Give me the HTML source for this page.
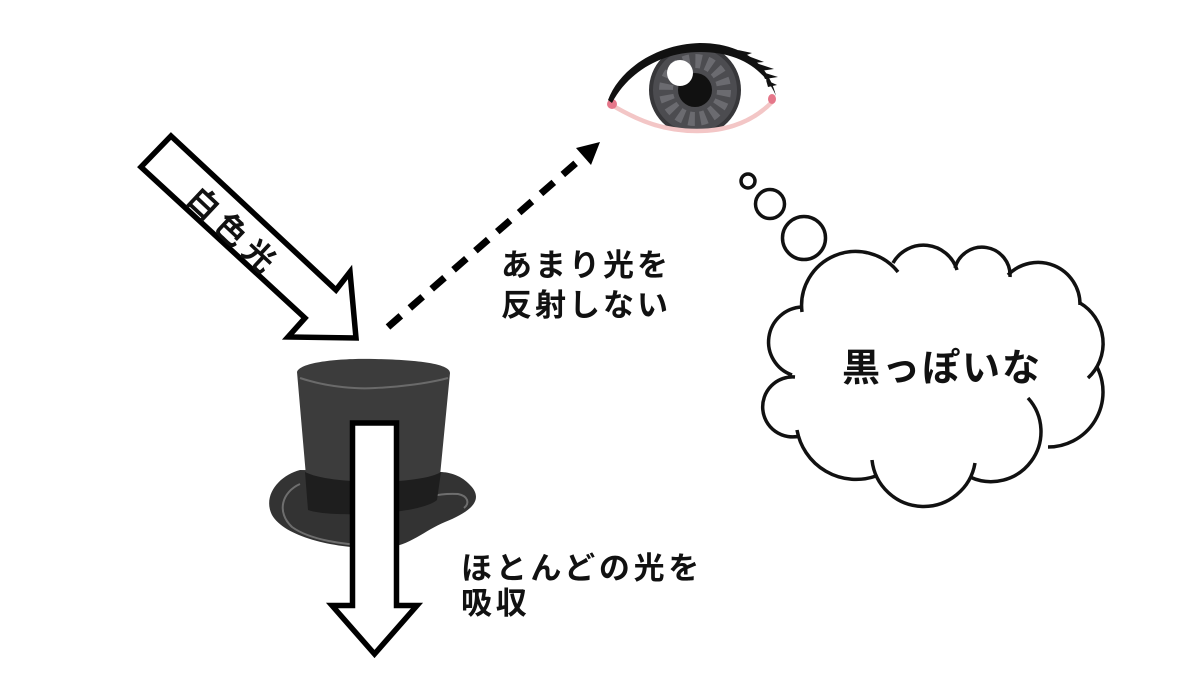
<!DOCTYPE html>
<html><head><meta charset="utf-8"><style>
html,body{margin:0;padding:0;background:#fff;}
svg{display:block;}
text{font-family:"Liberation Sans","Noto Sans CJK JP",sans-serif;font-weight:bold;fill:#111;}
</style></head><body>
<svg width="1200" height="675" viewBox="0 0 1200 675" xmlns="http://www.w3.org/2000/svg">
<rect width="1200" height="675" fill="#fff"/>

<!-- Diagonal white arrow -->
<polygon points="171,136 336,290 350,272 356,338 288,337 305,318 141,167" fill="#fff" stroke="#000" stroke-width="5.5" stroke-linejoin="miter" stroke-miterlimit="10"/>
<text x="203.3" y="204" font-size="31" text-anchor="middle" dominant-baseline="central" transform="rotate(43.2 203.3 204)">白</text>
<text x="231" y="230" font-size="31" text-anchor="middle" dominant-baseline="central" transform="rotate(43.2 231 230)">色</text>
<text x="258.7" y="256" font-size="31" text-anchor="middle" dominant-baseline="central" transform="rotate(43.2 258.7 256)">光</text>

<!-- Dashed arrow -->
<line x1="388" y1="327" x2="584" y2="156" stroke="#000" stroke-width="7" stroke-dasharray="17 12"/>
<polygon points="600,142 576,148 591,165" fill="#000"/>

<text x="501" y="276" font-size="31" letter-spacing="3">あまり光を</text>
<text x="501" y="316" font-size="31" letter-spacing="3">反射しない</text>

<!-- Hat -->
<path d="M300 470 C280 475 262 495 272 515 C285 538 340 550 385 548 C410 546 425 530 445 522 C470 512 485 500 470 485 C462 476 450 472 440 472 Z" fill="#333"/>
<path d="M300 484 C282 492 276 512 292 527 C310 540 345 545 368 545" fill="none" stroke="#6e6e6e" stroke-width="2"/>
<path d="M408 507 C420 497 440 493 458 494 C468 496 470 503 464 508" fill="none" stroke="#6e6e6e" stroke-width="2"/>
<path d="M297 372 C300 362 340 358 375 359 C420 360 450 364 450 373 L440 476 C420 488 330 488 306 476 Z" fill="#3c3c3c"/>
<path d="M305 472 C330 485 420 485 441 472 L437 500 C420 515 330 518 308 510 Z" fill="#1e1e1e"/>
<path d="M300 378 C330 388 360 389 375 388 C400 387 430 383 448 378" fill="none" stroke="#6a6a6a" stroke-width="2"/>

<!-- Down arrow -->
<polygon points="352.5,423 396.5,423 396.5,605.5 417,605.5 374.5,654 332,605.5 352.5,605.5" fill="#fff" stroke="#000" stroke-width="5.5" stroke-linejoin="miter" stroke-miterlimit="10"/>

<text x="461" y="579" font-size="31" letter-spacing="3.7">ほとんどの光を</text>
<text x="461" y="614" font-size="31" letter-spacing="3.7">吸収</text>

<!-- Eye -->
<defs>
<clipPath id="eyeclip"><path d="M610 101 C625 70 660 50 700 48 C735 48 765 65 773 98 C760 118 730 131 697 131 C660 131 630 118 610 101 Z"/></clipPath>
</defs>
<path d="M610 101 C625 70 660 50 700 48 C735 48 765 65 773 98 C760 118 730 131 697 131 C660 131 630 118 610 101 Z" fill="#fff"/>
<g clip-path="url(#eyeclip)">
<circle cx="695" cy="90" r="44" fill="#4c4c50" stroke="#37373a" stroke-width="4"/>
<circle cx="695" cy="90" r="29" fill="none" stroke="#6b6b70" stroke-width="14" stroke-dasharray="6 5.4"/>
<circle cx="695" cy="90" r="17" fill="#111"/>
<circle cx="680" cy="73" r="13" fill="#fff"/>
</g>
<path d="M610 104 C640 122 665 131 697 131 C730 131 755 120 773 101" fill="none" stroke="#f3c6c6" stroke-width="4.5"/>
<ellipse cx="612" cy="104" rx="5" ry="5" fill="#e5778a"/>
<ellipse cx="772" cy="99" rx="4" ry="5" fill="#e5778a"/>
<path d="M608 100 C620 68 658 44 700 43 C740 43 768 62 776 96 C764 68 738 52 700 52 C662 52 628 72 612 103 Z" fill="#111"/>
<polygon points="738,50 752,53 744,56" fill="#111"/>
<polygon points="748,56 764,62 752,63" fill="#111"/>
<polygon points="756,63 774,69 760,71" fill="#111"/>
<polygon points="762,72 778,77 765,79" fill="#111"/>
<polygon points="766,80 777,85 768,87" fill="#111"/>

<!-- Thought bubbles -->
<g fill="none" stroke="#111" stroke-width="3.5">
<circle cx="748" cy="181" r="7"/>
<circle cx="770" cy="204" r="14.5"/>
<circle cx="804" cy="238" r="21.5"/>
<path d="M802 312 A54 54 0 0 1 898 272"/>
<path d="M893 263 A35 35 0 0 1 957 270"/>
<path d="M955 268 A28 28 0 0 1 1010 277"/>
<path d="M1008 275 A42 42 0 0 1 1080 305"/>
<path d="M1080 303 A47 47 0 0 1 1088 378"/>
<path d="M1097 367 A55 55 0 0 1 1048 447"/>
<path d="M1028 398 A50 50 0 0 1 970 477"/>
<path d="M975 463 A52 52 0 0 1 872 460"/>
<path d="M876 476 A60 60 0 0 1 797 430"/>
<path d="M800 436 A30 30 0 1 1 795 377"/>
<path d="M792 375 A35 35 0 0 1 802 307"/>
</g>
<text x="842" y="381" font-size="38" letter-spacing="2">黒っぽいな</text>
</svg>
</body></html>
